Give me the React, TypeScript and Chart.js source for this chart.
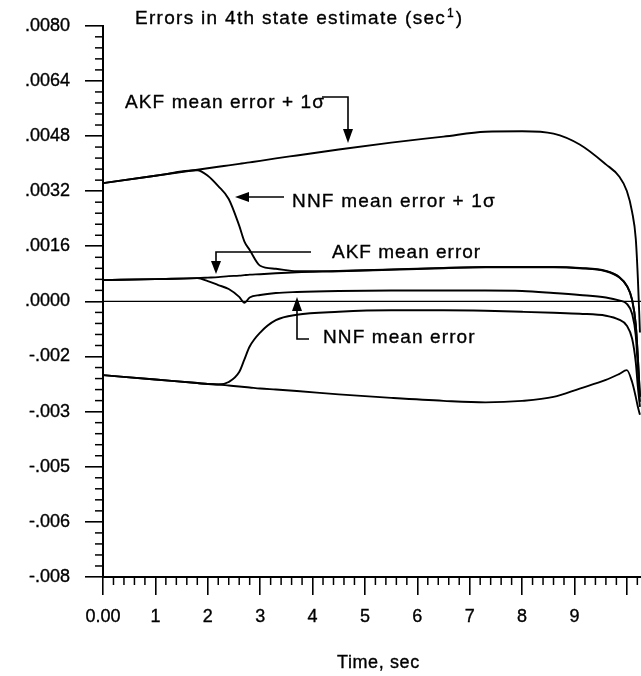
import React, { useEffect, useRef } from "react";
import { Chart, registerables } from "chart.js";

Chart.register(...registerables);

// ---- data ----
const timeSec = [0, 1.0, 1.8, 2.0, 2.2, 2.4, 2.6, 2.7, 2.8, 3.0, 3.3, 3.7, 4.5, 5.5, 6.5, 7.3, 8.0, 8.6, 9.1, 9.6, 9.85, 10.0, 10.1, 10.17, 10.21, 10.25];

const akfMeanPlusSigma = [0.003433, 0.003648, 0.00382, 0.003864, 0.003907, 0.00395, 0.003993, 0.004015, 0.004036, 0.004079, 0.004151, 0.004237, 0.004409, 0.00461, 0.004783, 0.004926, 0.00494, 0.004869, 0.004553, 0.003978, 0.003634, 0.003203, 0.0026, 0.001824, 0.000675, -0.000905];

const akfMean = [0.000618, 0.000646, 0.000675, 0.000689, 0.000704, 0.000733, 0.000747, 0.000762, 0.000776, 0.00079, 0.000819, 0.000847, 0.000876, 0.000919, 0.000962, 0.000991, 0.000991, 0.000991, 0.000962, 0.000876, 0.000704, 0.000445, 0.000043, -0.000675, -0.001623, -0.002772];

const akfMeanMinusSigma = [-0.00214, -0.002269, -0.00237, -0.002398, -0.002413, -0.002442, -0.00247, -0.002485, -0.002499, -0.002528, -0.002557, -0.0026, -0.0027, -0.002801, -0.002887, -0.00293, -0.002887, -0.002772, -0.00253, -0.00228, -0.00211, -0.001996, -0.00234, -0.002772, -0.00306, -0.00329];

const nnfMeanPlusSigma = [0.003433, 0.003648, 0.003806, 0.003648, 0.003347, 0.002973, 0.002198, 0.001738, 0.001494, 0.001034, 0.000948, 0.000876, 0.000886, 0.000929, 0.000972, 0.001001, 0.001001, 0.001001, 0.000972, 0.000886, 0.000714, 0.000455, 0.000053, -0.000665, -0.001613, -0.002762];

const nnfMean = [0.000618, 0.000646, 0.000675, 0.000589, 0.000474, 0.000359, 0.00013, -0.00004, 0.000115, 0.000187, 0.000244, 0.000273, 0.000302, 0.000316, 0.000316, 0.000316, 0.000302, 0.000244, 0.000187, 0.000115, 0.000029, -0.000072, -0.000359, -0.000991, -0.00191, -0.002916];

const nnfMeanMinusSigma = [-0.00214, -0.002269, -0.00237, -0.002398, -0.002413, -0.00234, -0.00205, -0.00168, -0.00131, -0.000905, -0.000546, -0.000388, -0.000302, -0.000259, -0.000259, -0.000273, -0.000302, -0.00033, -0.000359, -0.000416, -0.000531, -0.000704, -0.001077, -0.001767, -0.002485, -0.003059];

const zeroLineT = [0, 10.27];
const zeroLineV = [0, 0];

const yTickValues = [-0.008, -0.0064, -0.0048, -0.0032, -0.0016, 0, 0.0016, 0.0032, 0.0048, 0.0064, 0.008];
const yTickLabels = ["-.008", "-.006", "-.005", "-.003", "-.002", ".0000", ".0016", ".0032", ".0048", ".0064", ".0080"];
const xTickValues = [0, 1, 2, 3, 4, 5, 6, 7, 8, 9, 10];
const xTickLabels = ["0.00", "1", "2", "3", "4", "5", "6", "7", "8", "9", ""];

const FONT = '"Liberation Sans", Arial, Helvetica, sans-serif';

function drawText(ctx: CanvasRenderingContext2D, text: string, x: number, y: number, size: number, spacing: number) {
  ctx.font = `${size}px ${FONT}`;
  (ctx as any).letterSpacing = `${spacing}px`;
  ctx.textAlign = "left";
  ctx.textBaseline = "alphabetic";
  ctx.fillText(text, x, y);
  ctx.lineWidth = 0.35;
  ctx.strokeText(text, x, y);
  const w = ctx.measureText(text).width;
  (ctx as any).letterSpacing = "0px";
  return w;
}

function seg(ctx: CanvasRenderingContext2D, pts: number[][]) {
  ctx.beginPath();
  ctx.moveTo(pts[0][0], pts[0][1]);
  for (let i = 1; i < pts.length; i++) ctx.lineTo(pts[i][0], pts[i][1]);
  ctx.stroke();
}

function arrowHead(ctx: CanvasRenderingContext2D, tipX: number, tipY: number, dir: "down" | "up" | "left", len = 14, half = 5) {
  ctx.beginPath();
  ctx.moveTo(tipX, tipY);
  if (dir === "down") { ctx.lineTo(tipX - half, tipY - len); ctx.lineTo(tipX + half, tipY - len); }
  if (dir === "up") { ctx.lineTo(tipX - half, tipY + len); ctx.lineTo(tipX + half, tipY + len); }
  if (dir === "left") { ctx.lineTo(tipX + len, tipY - half); ctx.lineTo(tipX + len, tipY + half); }
  ctx.closePath();
  ctx.fill();
}

const overlayPlugin = {
  id: "overlay",
  afterDraw(chart: any) {
    const { ctx, chartArea, scales } = chart;
    const xs = scales.x;
    const ys = scales.y;
    ctx.save();
    ctx.strokeStyle = "#000";
    ctx.fillStyle = "#000";
    ctx.lineWidth = 1.5;
    // minor ticks on y
    for (let i = 0; i < yTickValues.length - 1; i++) {
      const a = yTickValues[i];
      const b = yTickValues[i + 1];
      for (let k = 1; k < 5; k++) {
        const py = ys.getPixelForValue(a + ((b - a) * k) / 5);
        seg(ctx, [[chartArea.left - 8, py], [chartArea.left, py]]);
      }
    }
    // minor ticks on x
    for (let i = 0; i < xTickValues.length; i++) {
      const a = xTickValues[i];
      for (let k = 1; k < 5; k++) {
        const v = a + k / 5;
        if (v > xs.max) break;
        const px = xs.getPixelForValue(v);
        seg(ctx, [[px, chartArea.bottom], [px, chartArea.bottom + 8]]);
      }
    }

    // title
    const w = drawText(ctx, "Errors in 4th state estimate (sec", 135, 24, 19, 1.3);
    const w2 = drawText(ctx, "1", 135 + w + 1, 17, 12, 0);
    drawText(ctx, ")", 135 + w + w2 + 3, 24, 19, 1.3);

    // axis title
    drawText(ctx, "Time, sec", 337, 668, 18, 0.6);

    // AKF mean error + 1σ
    drawText(ctx, "AKF mean error + 1σ", 125, 108, 19, 1.1);
    ctx.lineWidth = 1.6;
    seg(ctx, [[322, 97], [348, 97], [348, 130]]);
    arrowHead(ctx, 348, 143, "down");

    // NNF mean error + 1σ
    drawText(ctx, "NNF mean error + 1σ", 292, 207, 19, 1.2);
    ctx.lineWidth = 1.6;
    seg(ctx, [[284, 197], [246, 197]]);
    arrowHead(ctx, 235, 197, "left");

    // AKF mean error
    drawText(ctx, "AKF mean error", 332, 258, 19, 1.0);
    ctx.lineWidth = 1.6;
    seg(ctx, [[311, 252], [216, 252], [216, 262]]);
    arrowHead(ctx, 216, 274, "down", 13);

    // NNF mean error
    drawText(ctx, "NNF mean error", 323, 343, 19, 1.1);
    ctx.lineWidth = 1.6;
    seg(ctx, [[309, 339], [297, 339], [297, 308]]);
    arrowHead(ctx, 297, 297, "up", 14);

    ctx.restore();
  },
};

export default function App() {
  const ref = useRef<HTMLCanvasElement | null>(null);
  useEffect(() => {
    document.body.style.margin = "0";
    const canvas = ref.current;
    if (!canvas) return;
    const series = [akfMeanPlusSigma, akfMean, akfMeanMinusSigma, nnfMeanPlusSigma, nnfMean, nnfMeanMinusSigma];
    const datasets: any[] = series.map((vals) => ({
      data: timeSec.map((t, i) => ({ x: t, y: vals[i] })),
      borderColor: "#000",
      borderWidth: 1.9,
      pointRadius: 0,
      fill: false,
      cubicInterpolationMode: "monotone",
    }));
    datasets.push({
      data: zeroLineT.map((t, i) => ({ x: t, y: zeroLineV[i] })),
      borderColor: "#000",
      borderWidth: 1.3,
      pointRadius: 0,
      fill: false,
    });
    const tickFont = { family: FONT, size: 18 };
    const chart = new Chart(canvas, {
      type: "line",
      data: { datasets },
      options: {
        responsive: false,
        animation: false,
        devicePixelRatio: 1,
        layout: { padding: { top: 20, left: 0, right: 0, bottom: 0 } },
        plugins: { legend: { display: false }, tooltip: { enabled: false }, title: { display: false } },
        scales: {
          x: {
            type: "linear",
            min: 0,
            max: 10.27,
            afterFit: (s: any) => { s.height = 99; },
            afterBuildTicks: (s: any) => { s.ticks = xTickValues.map((v) => ({ value: v })); },
            ticks: {
              autoSkip: false,
              maxRotation: 0,
              padding: 11,
              color: "#000",
              font: tickFont,
              textStrokeColor: "#000",
              textStrokeWidth: 0.35,
              callback: (_v: any, i: number) => xTickLabels[i],
            },
            grid: { drawOnChartArea: false, drawTicks: true, tickLength: 18, color: "#000", lineWidth: 1.6 },
            border: { display: true, color: "#000", width: 2 },
          },
          y: {
            type: "linear",
            min: -0.008,
            max: 0.008,
            afterFit: (s: any) => { s.width = 103; },
            afterBuildTicks: (s: any) => { s.ticks = yTickValues.map((v) => ({ value: v })); },
            ticks: {
              autoSkip: false,
              padding: 15,
              color: "#000",
              font: tickFont,
              textStrokeColor: "#000",
              textStrokeWidth: 0.35,
              callback: (_v: any, i: number) => yTickLabels[i],
            },
            grid: { drawOnChartArea: false, drawTicks: true, tickLength: 18, color: "#000", lineWidth: 1.6 },
            border: { display: true, color: "#000", width: 2 },
          },
        },
      } as any,
      plugins: [overlayPlugin],
    });
    return () => chart.destroy();
  }, []);
  return (
    <div style={{ width: 641, height: 676, overflow: "hidden", background: "#fff" }}>
      <canvas ref={ref} width={641} height={676} style={{ display: "block" }} />
    </div>
  );
}
